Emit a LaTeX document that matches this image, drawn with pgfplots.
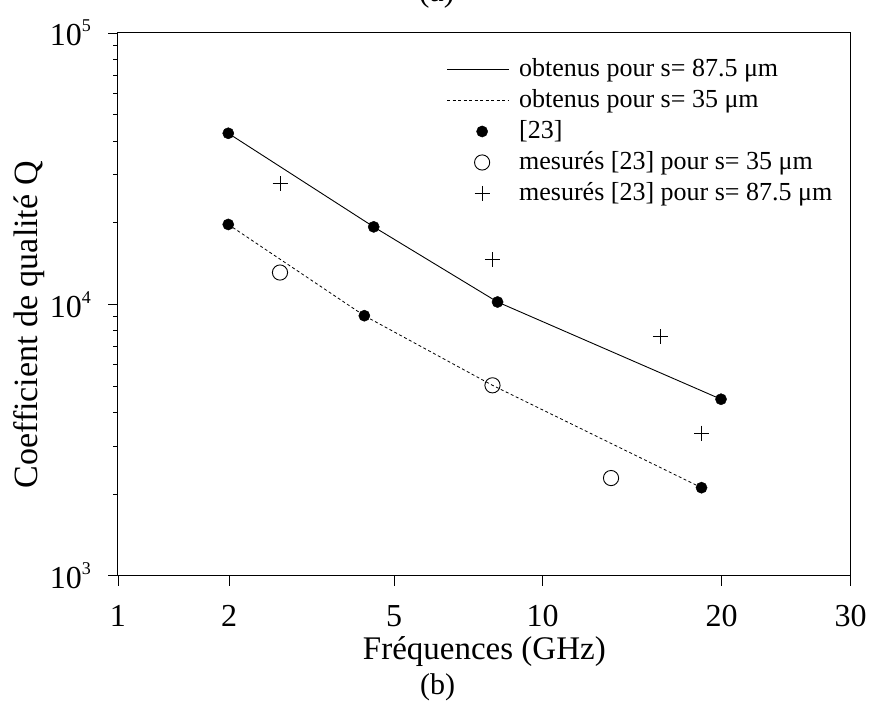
\documentclass[border=0pt]{standalone}
\usepackage{fontspec}
\setmainfont{Liberation Serif}
\usepackage{pgfplots}
\pgfplotsset{compat=1.18}
\pgfplotsset{
  lineimg/.style={legend image code/.code={\draw[##1] (0pt,0pt) -- (61.6pt,0pt);}},
  markimg/.style={legend image code/.code={\draw[##1] plot coordinates {(35pt,0pt)};}},
}
\newcommand{\tpow}[1]{10\raisebox{14pt}{\fontsize{18}{18}\selectfont #1}}
\begin{document}
\begin{tikzpicture}[x=1pt,y=1pt]
\begin{axis}[
  at={(118pt,126.3pt)}, anchor=south west,
  scale only axis, width=732.7pt, height=542.7pt,
  xmin=0, xmax=100, ymode=log, ymin=1000, ymax=100000,
  xtick={0,15.15,37.67,57.96,82.39,100},
  xticklabels={1,2,5,10,20,30},
  minor xtick={},
  ytick={1000,10000,100000},
  yticklabels={\tpow{3},\tpow{4},\tpow{5}},
  xtick pos=bottom, ytick pos=left,
  tick align=outside,
  major tick length=10pt, minor tick length=5pt,
  every tick/.style={black, line width=0.9pt},
  axis line style={black, line width=1pt},
  xticklabel style={font=\fontsize{32}{38}\selectfont, inner sep=0pt, anchor=base, yshift=-41.3pt},
  yticklabel style={font=\fontsize{32}{38}\selectfont, inner sep=0pt, anchor=east, xshift=-17pt},
  xlabel={Fréquences (GHz)},
  xlabel style={at={(axis description cs:0.5,-0.1553)}, anchor=base, inner sep=0pt, font=\fontsize{33}{40}\selectfont},
  ylabel={Coefficient de qualité Q},
  ylabel style={at={(axis description cs:-0.1099,0.462)}, anchor=base, inner sep=0pt, font=\fontsize{34}{40}\selectfont},
  legend cell align=left,
  legend style={at={(axis description cs:0.4486,0.9613)}, anchor=north west,
    draw=none, fill=none, inner sep=0pt, outer sep=0pt, row sep=0pt, column sep=10pt,
    nodes={inner sep=0pt, text height=22.2pt, text depth=8.8pt},
    font=\fontsize{26}{31}\selectfont},
]
% obtenus pour s = 87.5 um
\addplot[black, line width=0.9pt, no marks, lineimg]
  coordinates {(15.05,42700) (34.90,19300) (51.80,10200) (82.30,4470)};
\addlegendentry{obtenus pour s= 87.5 μm}
% obtenus pour s = 35 um
\addplot[black, line width=0.8pt, no marks, dash pattern=on 3pt off 2.5pt, lineimg]
  coordinates {(15.05,19700) (33.62,9080) (51.11,5030) (79.64,2110)};
\addlegendentry{obtenus pour s= 35 μm}
% [23]
\addplot[black, only marks, mark=*, mark size=5.6pt, markimg]
  coordinates {(15.05,42700) (15.05,19700) (34.90,19300) (33.62,9080) (51.80,10200) (82.30,4470) (79.64,2110)};
\addlegendentry{[23]}
% mesures [23] pour s = 35 um
\addplot[black, only marks, mark=o, mark size=7.6pt, line width=0.9pt, markimg]
  coordinates {(22.11,13100) (51.11,5030) (67.29,2290)};
\addlegendentry{mesurés [23] pour s= 35 μm}
% mesures [23] pour s = 87.5 um
\addplot[black, only marks, mark=+, mark size=7.5pt, line width=0.8pt, markimg]
  coordinates {(22.11,27800) (51.11,14600) (74.01,7600) (79.66,3350)};
\addlegendentry{mesurés [23] pour s= 87.5 μm}
\end{axis}
\node[anchor=base, inner sep=0pt, font=\fontsize{32}{38}\selectfont] at (436.7pt,700pt) {(a)};
\node[anchor=base, inner sep=0pt, font=\fontsize{30}{36}\selectfont] at (437.5pt,7.6pt) {(b)};
\pgfresetboundingbox
\path[use as bounding box] (0pt,0pt) rectangle (871pt,702pt);
\end{tikzpicture}
\end{document}
